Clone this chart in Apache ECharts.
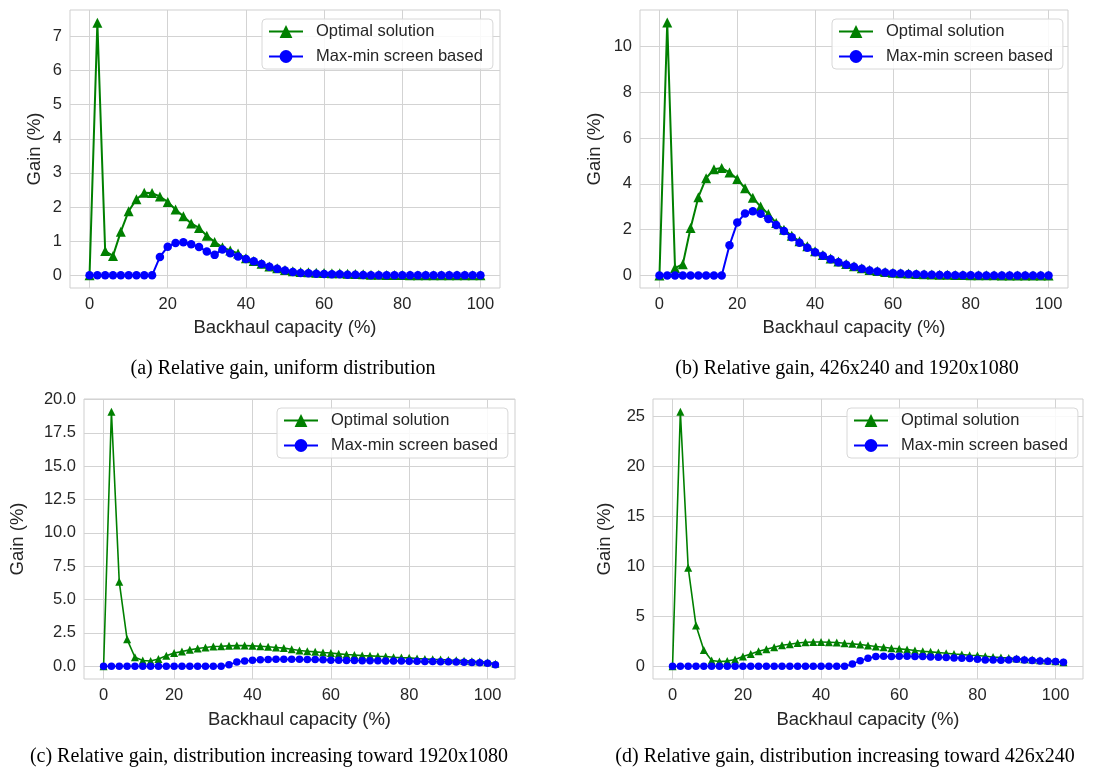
<!DOCTYPE html>
<html><head><meta charset="utf-8">
<script src="https://cdn.jsdelivr.net/npm/echarts@6/dist/echarts.min.js"></script>
<style>html,body{margin:0;padding:0;background:#fff}#c{width:1097px;height:770px}</style>
</head><body><div id="c"></div>
<script>
// ---------- data ----------
const xAB = [0,2,4,6,8,10,12,14,16,18,20,22,24,26,28,30,32,34,36,38,40,42,44,46,48,50,52,54,56,58,60,62,64,66,68,70,72,74,76,78,80,82,84,86,88,90,92,94,96,98,100];
const xCD = [2,4,6,8,10,12,14,16,18,20,22,24,26,28,30,32,34,36,38,40,42,44,46,48,50,52,54,56,58,60,62,64,66,68,70,72,74,76,78,80,82,84,86,88,90,92,94,96,98,100,102];
const xTickLabels = ['0','20','40','60','80','100'];
const xTickPosAB = [0,20,40,60,80,100];
const xTickPosCD = [2,20,40,60,80,100];

const seriesNames = ['Optimal solution','Max-min screen based'];

const aOptimal = [0,7.40,0.71,0.57,1.28,1.88,2.23,2.42,2.41,2.31,2.15,1.93,1.73,1.52,1.39,1.16,0.98,0.82,0.73,0.64,0.50,0.42,0.34,0.26,0.21,0.16,0.12,0.10,0.09,0.08,0.07,0.06,0.06,0.05,0.04,0.03,0.02,0.02,0.01,0.01,0.01,0,0,0,0,0,0,0,0,0,0];
const aMaxMin  = [0,0,0,0,0,0,0,0,0,0.54,0.84,0.95,0.97,0.91,0.83,0.70,0.60,0.76,0.65,0.55,0.48,0.41,0.33,0.25,0.19,0.14,0.10,0.07,0.06,0.05,0.04,0.03,0.03,0.02,0.02,0.01,0,0,0,0,0,0,0,0,0,0,0,0,0,0,0];

const bOptimal = [0,11.05,0.32,0.49,2.07,3.42,4.25,4.64,4.69,4.50,4.21,3.81,3.39,3.01,2.68,2.29,2.00,1.73,1.49,1.27,1.06,0.89,0.74,0.61,0.50,0.40,0.31,0.24,0.19,0.15,0.12,0.10,0.08,0.06,0.05,0.04,0.03,0.03,0.02,0.02,0.01,0.01,0.01,0.01,0,0,0,0,0,0,0];
const bMaxMin  = [0,0,0,0,0,0,0,0,0,1.32,2.31,2.71,2.80,2.70,2.47,2.20,1.94,1.67,1.43,1.21,1.01,0.86,0.71,0.58,0.47,0.38,0.29,0.22,0.17,0.13,0.10,0.08,0.06,0.05,0.04,0.03,0.02,0.02,0.01,0.01,0.01,0,0,0,0,0,0,0,0,0,0];

const cOptimal = [0,19.08,6.33,2.02,0.68,0.43,0.40,0.55,0.78,1.00,1.10,1.23,1.33,1.41,1.48,1.50,1.53,1.55,1.55,1.53,1.50,1.46,1.41,1.36,1.27,1.18,1.13,1.08,1.03,1.00,0.93,0.88,0.85,0.80,0.78,0.75,0.73,0.68,0.65,0.63,0.58,0.55,0.52,0.50,0.47,0.45,0.42,0.38,0.35,0.30,0.18];
const cMaxMin  = [0,0,0,0,0,0,0,0,0,0,0,0,0,0,0,0,0.12,0.32,0.40,0.45,0.48,0.50,0.52,0.52,0.53,0.52,0.50,0.50,0.48,0.46,0.45,0.44,0.43,0.42,0.42,0.41,0.40,0.40,0.39,0.38,0.37,0.36,0.35,0.34,0.33,0.32,0.30,0.28,0.26,0.22,0.12];

const dOptimal = [0,25.43,9.85,4.07,1.62,0.57,0.47,0.53,0.67,0.97,1.23,1.50,1.70,1.90,2.10,2.20,2.33,2.40,2.43,2.43,2.40,2.37,2.30,2.24,2.17,2.07,1.97,1.90,1.80,1.74,1.67,1.57,1.50,1.44,1.37,1.30,1.23,1.17,1.10,1.07,1.00,0.93,0.87,0.83,0.77,0.70,0.67,0.60,0.57,0.50,0.40];
const dMaxMin  = [0,0,0,0,0,0,0,0,0,0,0,0,0,0,0,0,0,0,0,0,0,0,0,0.23,0.55,0.80,0.97,1.00,0.97,1.00,1.00,0.97,0.97,0.93,0.90,0.87,0.83,0.80,0.77,0.70,0.63,0.63,0.60,0.63,0.70,0.63,0.57,0.53,0.50,0.47,0.40];

const yTicksA = [0,1,2,3,4,5,6,7];
const yTicksB = [0,2,4,6,8,10];
const yTicksC = [0,2.5,5,7.5,10,12.5,15,17.5,20];
const yTicksD = [0,5,10,15,20,25];

const captions = [
  '(a) Relative gain, uniform distribution',
  '(b) Relative gain, 426x240 and 1920x1080',
  '(c) Relative gain, distribution increasing toward 1920x1080',
  '(d) Relative gain, distribution increasing toward 426x240'
];
const xName = 'Backhaul capacity (%)';
const yName = 'Gain (%)';

// ---------- layout ----------
const SANS = '"Liberation Sans", Arial, sans-serif';
const TXT = '#262626';
const GRIDC = '#d3d3d3';
const panels = [
  {grid:{left:70,top:10,width:430,height:278}, xr:[-5,105], xt:xTickPosAB, yr:[-0.37,7.77], yt:yTicksA, fmt:v=>String(v), yGap:26, xGap:30,
   xs:xAB, g:aOptimal, b:aMaxMin, lg:{left:262,top:19}, cap:[283,369], sz:[10,8.5], lw:2},
  {grid:{left:640,top:10,width:428,height:278}, xr:[-5,105], xt:xTickPosAB, yr:[-0.55,11.6], yt:yTicksB, fmt:v=>String(v), yGap:36, xGap:30,
   xs:xAB, g:bOptimal, b:bMaxMin, lg:{left:832,top:19}, cap:[847,369], sz:[10,8.5], lw:2},
  {grid:{left:84,top:399,width:431,height:280}, xr:[-3,107], xt:xTickPosCD, yr:[-0.954,20.03], yt:yTicksC, fmt:v=>v.toFixed(1), yGap:57, xGap:31,
   xs:xCD, g:cOptimal, b:cMaxMin, lg:{left:277,top:408}, cap:[269,757], sz:[8,7.5], lw:1.6},
  {grid:{left:653,top:399,width:430,height:280}, xr:[-3,107], xt:xTickPosCD, yr:[-1.27,26.7], yt:yTicksD, fmt:v=>String(v), yGap:39, xGap:31,
   xs:xCD, g:dOptimal, b:dMaxMin, lg:{left:847,top:408}, cap:[845,757], sz:[8,7.5], lw:1.6}
];

const option = {animation:false, backgroundColor:'#fff', grid:[], xAxis:[], yAxis:[], series:[], legend:[]};
panels.forEach((p,i)=>{
  option.grid.push(Object.assign({show:true, borderColor:'#cfcfcf', borderWidth:1, backgroundColor:'#fff'}, p.grid));
  option.xAxis.push({
    type:'value', gridIndex:i, min:p.xr[0], max:p.xr[1],
    name:xName, nameLocation:'middle', nameGap:p.xGap,
    nameTextStyle:{fontFamily:SANS, fontSize:18.5, color:TXT},
    axisLine:{show:false}, axisTick:{show:false, customValues:p.xt},
    axisLabel:{customValues:p.xt, formatter:v=>{const k=p.xt.indexOf(v); return k>=0?xTickLabels[k]:String(v);},
               fontFamily:SANS, fontSize:16.5, color:TXT, margin:8},
    splitLine:{show:true, lineStyle:{color:GRIDC, width:1}}
  });
  option.yAxis.push({
    type:'value', gridIndex:i, min:p.yr[0], max:p.yr[1],
    name:yName, nameLocation:'middle', nameGap:p.yGap, nameRotate:90,
    nameTextStyle:{fontFamily:SANS, fontSize:18.5, color:TXT},
    axisLine:{show:false}, axisTick:{show:false, customValues:p.yt},
    axisLabel:{customValues:p.yt, formatter:p.fmt, fontFamily:SANS, fontSize:16.5, color:TXT, margin:8},
    splitLine:{show:true, lineStyle:{color:GRIDC, width:1}}
  });
  option.series.push({
    type:'line', name:seriesNames[0], xAxisIndex:i, yAxisIndex:i,
    data:p.xs.map((x,k)=>[x,p.g[k]]), symbol:'triangle', symbolSize:p.sz[0],
    lineStyle:{color:'#008000', width:p.lw}, itemStyle:{color:'#008000'}, z:2
  });
  option.series.push({
    type:'line', name:seriesNames[1], xAxisIndex:i, yAxisIndex:i,
    data:p.xs.map((x,k)=>[x,p.b[k]]), symbol:'circle', symbolSize:p.sz[1],
    lineStyle:{color:'#0000ff', width:p.lw}, itemStyle:{color:'#0000ff'}, z:3
  });
  option.legend.push({
    data:seriesNames, orient:'vertical', left:p.lg.left, top:p.lg.top,
    itemWidth:34, itemHeight:16, itemGap:8, padding:[4,10,4,6],
    borderColor:'#d8d8d8', borderWidth:1, borderRadius:4, backgroundColor:'rgba(255,255,255,0.85)',
    textStyle:{fontFamily:SANS, fontSize:16.5, color:TXT, padding:[0,0,0,8]},
    selectedMode:false
  });
});
option.graphic = panels.map((p,i)=>({
  type:'text', x:p.cap[0], y:p.cap[1], z:10,
  style:{text:captions[i], font:'20px "Liberation Serif", "Times New Roman", serif', fill:'#000', align:'center', verticalAlign:'middle'}
}));

const chart = echarts.init(document.getElementById('c'));
chart.setOption(option);
</script>
</body></html>
